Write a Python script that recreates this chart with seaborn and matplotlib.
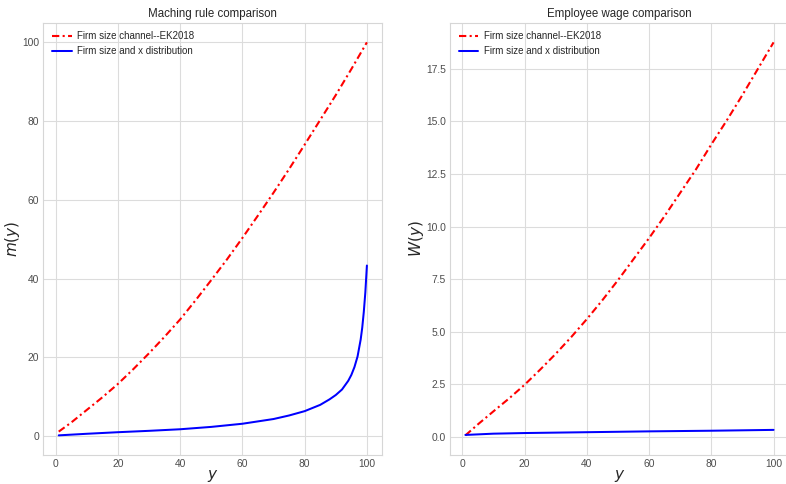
import matplotlib
matplotlib.use('Agg')
import matplotlib.pyplot as plt
import seaborn as sns

# Red curves (EK2018 firm size channel)
y_red = [1, 5, 10, 15, 20, 25, 30, 35, 40, 45, 50,
         55, 60, 65, 70, 75, 80, 85, 90, 95, 100]
m_red = [1.1, 3.4, 6.6, 9.8, 13.2, 17.0, 21.0, 25.2, 29.6, 34.5, 39.6,
         44.8, 50.3, 56.0, 61.8, 67.8, 74.0, 80.3, 86.6, 93.2, 100.0]
w_red = [0.08, 0.6, 1.22, 1.83, 2.48, 3.2, 3.95, 4.75, 5.6, 6.5, 7.45,
         8.45, 9.45, 10.5, 11.6, 12.7, 13.9, 15.05, 16.25, 17.5, 18.75]

# Blue curves (firm size and x distribution)
y_blue_m = [1, 10, 20, 30, 40, 50, 60, 70, 75, 80, 85, 88, 90, 92,
            94, 95, 96, 97, 98, 98.5, 99, 99.5, 100]
m_blue = [0.15, 0.55, 0.95, 1.3, 1.7, 2.3, 3.1, 4.3, 5.2, 6.3, 7.9, 9.3, 10.4, 11.8,
          14.0, 15.5, 17.5, 20.2, 24.5, 27.5, 31.5, 36.5, 43.3]
y_blue_w = [1, 10, 20, 30, 40, 50, 60, 70, 80, 90, 100]
w_blue = [0.10, 0.16, 0.19, 0.21, 0.23, 0.25, 0.27, 0.285, 0.30, 0.32, 0.34]

lab_red = 'Firm size channel--EK2018'
lab_blue = 'Firm size and x distribution'

sns.set_style('whitegrid')
plt.rcParams['font.family'] = ['Liberation Sans', 'DejaVu Sans']
plt.rcParams['axes.edgecolor'] = '#d6d6d6'
plt.rcParams['grid.color'] = '#dcdcdc'

fig = plt.figure(figsize=(7.86, 4.84), dpi=100)
ax1 = fig.add_axes([0.0551, 0.0599, 0.4313, 0.8932])
ax2 = fig.add_axes([0.5725, 0.0599, 0.4313, 0.8932])

panels = [
    (ax1, m_red, y_blue_m, m_blue, 'Maching rule comparison', '$m(y)$'),
    (ax2, w_red, y_blue_w, w_blue, 'Employee wage comparison', '$W(y)$'),
]
for ax, red_vals, bx, blue_vals, title, ylab in panels:
    sns.lineplot(x=y_red, y=red_vals, ax=ax, color='r',
                 linestyle=(0, (3.5, 1.6, 1, 1.6)), linewidth=1.5, label=lab_red)
    sns.lineplot(x=bx, y=blue_vals, ax=ax, color='b', linewidth=1.45,
                 label=lab_blue)
    ax.set_title(title, fontsize=8.3, color='.15', pad=4)
    ax.set_xlabel('$y$', fontsize=11, color='.15', labelpad=-1)
    ax.set_ylabel(ylab, fontsize=11, color='.15', labelpad=0)
    ax.tick_params(labelsize=7.4, colors='.3', length=0, pad=3)
    ax.set_xticks([0, 20, 40, 60, 80, 100])
    ax.legend(loc='upper left', frameon=False, fontsize=7, handletextpad=0.6)

ax2.set_yticks([0.0, 2.5, 5.0, 7.5, 10.0, 12.5, 15.0, 17.5])
ax2.set_yticklabels(['0.0', '2.5', '5.0', '7.5', '10.0', '12.5', '15.0', '17.5'])

fig.savefig('out.png', dpi=100)
